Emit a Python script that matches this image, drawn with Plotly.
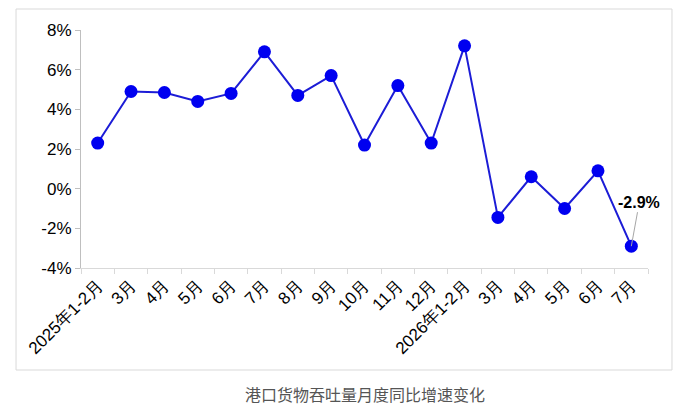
import plotly.graph_objects as go

# monthly port cargo throughput, yoy growth (%)
months = ['2025年1-2月', '3月', '4月', '5月', '6月', '7月', '8月', '9月', '10月',
          '11月', '12月', '2026年1-2月', '3月', '4月', '5月', '6月', '7月']
growth = [2.3, 4.9, 4.85, 4.4, 4.8, 6.9, 4.7, 5.7, 2.2, 5.2, 2.3, 7.2, -1.45, 0.6, -1.0, 0.9, -2.9]
ytick_vals = [-4, -2, 0, 2, 4, 6, 8]
ytick_text = ['-4%', '-2%', '0%', '2%', '4%', '6%', '8%']

# category keys must be unique, the labels are not
keys = ['c%d' % i for i in range(len(months))]

fig = go.Figure()
fig.add_trace(go.Scatter(
    x=keys, y=growth, mode='lines+markers',
    line=dict(color='#1c1cd6', width=2),
    marker=dict(color='#0000f0', size=13),
    hoverinfo='y'
))

# label for the latest month
fig.add_annotation(
    x=keys[-1], y=growth[-1], text='<b>%.1f%%</b>' % growth[-1],
    showarrow=True, arrowhead=0, arrowwidth=1, arrowcolor='#a6a6a6',
    ax=8, ay=-44, font=dict(family='Liberation Sans, Arial', size=16, color='black')
)

# outer frame
fig.add_shape(type='rect', xref='paper', yref='paper',
              x0=-0.1146, x1=1.0423, y0=-0.4286, y1=1.0882,
              line=dict(color='#d9d9d9', width=1), fillcolor='rgba(0,0,0,0)')

fig.update_xaxes(
    type='category', tickmode='array', tickvals=keys, ticktext=months,
    tickangle=-45, tickson='boundaries', ticks='outside', ticklen=5,
    tickcolor='#d9d9d9', showline=True, linecolor='#d9d9d9', linewidth=1,
    showgrid=False, zeroline=False, range=[-0.5, len(months) - 0.5],
    automargin=False,
    tickfont=dict(family='Liberation Sans, Arial', size=17, color='black')
)
fig.update_yaxes(
    range=[-4, 8], tickmode='array', tickvals=ytick_vals, ticktext=ytick_text,
    ticks='outside', ticklen=5, tickcolor='#bfbfbf', showline=True,
    linecolor='#bfbfbf', linewidth=1, showgrid=False, zeroline=False,
    automargin=False,
    tickfont=dict(family='Liberation Sans, Arial', size=17, color='black')
)

# margins account for the 8px page margin of the html body
fig.update_layout(
    width=700, height=419,
    margin=dict(l=73, r=60, t=22, b=159),
    plot_bgcolor='white', paper_bgcolor='white',
    showlegend=False,
    title=dict(text='港口货物吞吐量月度同比增速变化', x=0.51, xanchor='center',
               y=0.076, yanchor='middle', automargin=False,
               font=dict(family='Noto Sans CJK SC', size=16, color='#555555'))
)

fig.write_html("out.html")
